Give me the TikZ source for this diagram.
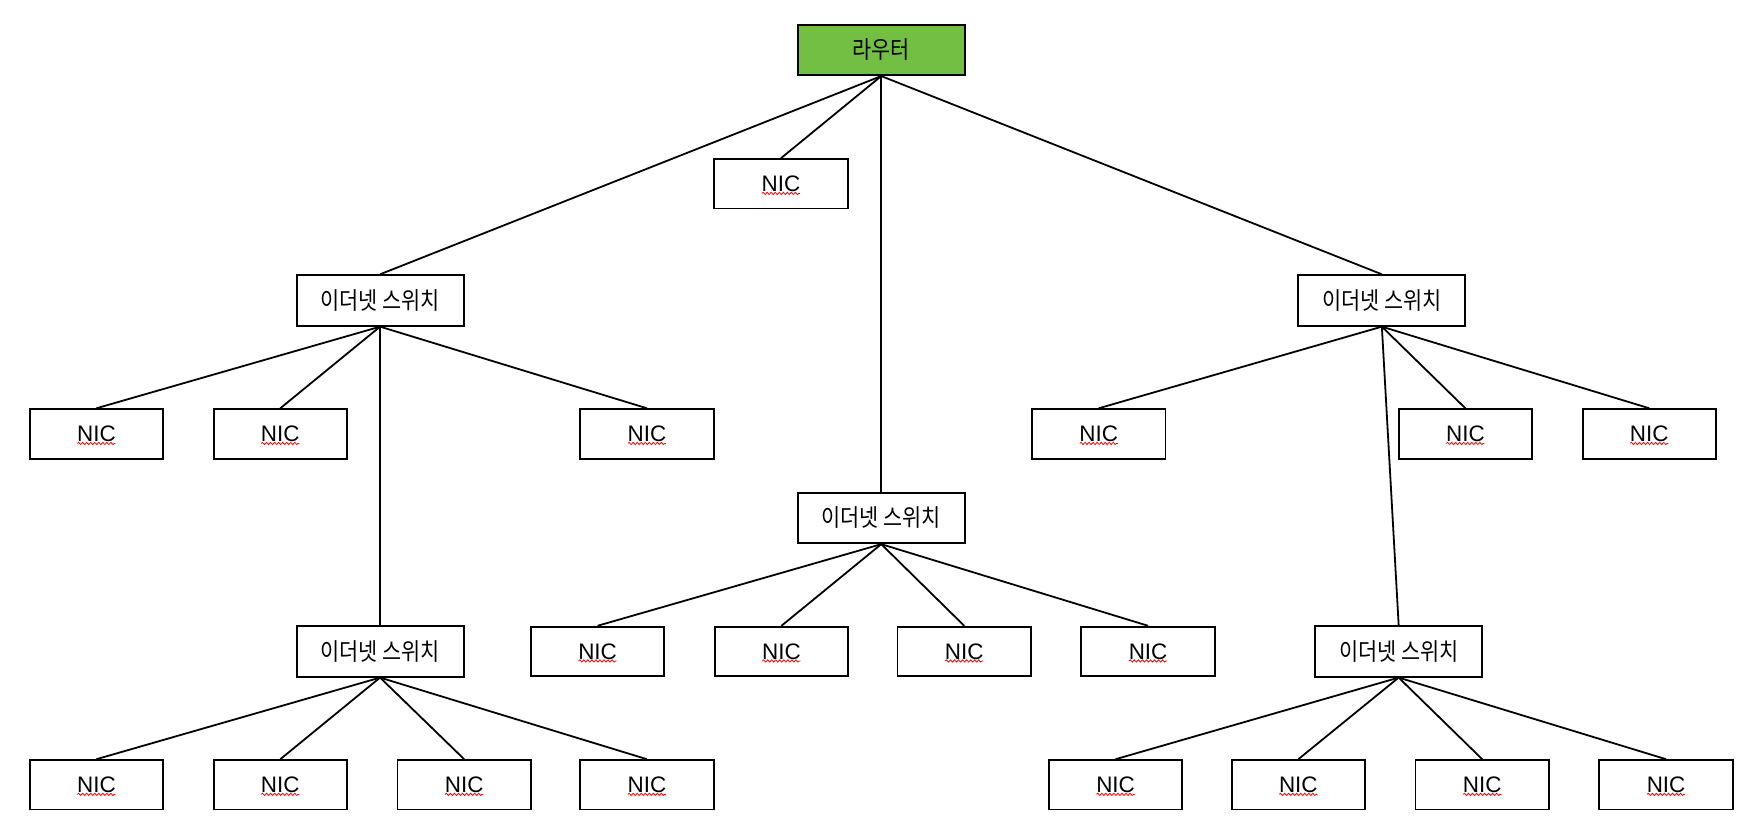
\documentclass[tikz,border=0pt]{standalone}
\usepackage{graphicx}
\usepackage{fontspec}
\setmainfont{Liberation Sans}
\newfontfamily\krfont{Noto Sans CJK KR}
\usetikzlibrary{decorations.pathmorphing,calc}
\definecolor{routergreen}{RGB}{114,191,68}
\newcommand\krtext[1]{\scalebox{0.95}[1.1]{\krfont\fontsize{19.5}{22}\selectfont #1}}
\newcommand\nicnode[3]{%
  \node[nicbox] (#1) at (#2,#3) {NIC};
  \draw[spellwave] ($(#1.center)+(-17,8.5)$) -- ($(#1.center)+(17,8.5)$);%
}
\begin{document}
\begin{tikzpicture}[x=1pt,y=-1pt,
  basebox/.style={draw, line width=1.7pt, inner sep=0pt, fill=white},
  nicbox/.style={basebox, minimum width=119, minimum height=44, font=\fontsize{20}{24}\selectfont},
  swbox/.style={basebox, minimum width=149, minimum height=45},
  routerbox/.style={swbox, fill=routergreen},
  link/.style={line width=1.6pt},
  spellwave/.style={draw=red, line width=0.7pt, decorate, decoration={snake, amplitude=1pt, segment length=3.6pt}}
]
\fill[white] (0,0) rectangle (1568,747.4);
\useasboundingbox (0,0) rectangle (1568,747.4);

% nodes
\node[routerbox] (r) at (786,44.5) {\krtext{라우터}};
\nicnode{n0}{696.5}{164}
\node[swbox] (s1) at (339,268) {\krtext{이더넷 스위치}};
\node[swbox] (s2) at (1232.5,268) {\krtext{이더넷 스위치}};
\node[swbox] (s3) at (786,462) {\krtext{이더넷 스위치}};
\node[swbox] (s4) at (339,581) {\krtext{이더넷 스위치}};
\node[swbox] (s5) at (1247.5,581) {\krtext{이더넷 스위치}};

\nicnode{a1}{86}{387}
\nicnode{a2}{250}{387}
\nicnode{a3}{577}{387}
\nicnode{b1}{980}{387}
\nicnode{b2}{1307}{387}
\nicnode{b3}{1471}{387}

\nicnode{c1}{533}{581}
\nicnode{c2}{697}{581}
\nicnode{c3}{860}{581}
\nicnode{c4}{1024}{581}

\nicnode{d1}{86}{700}
\nicnode{d2}{250}{700}
\nicnode{d3}{414}{700}
\nicnode{d4}{577}{700}
\nicnode{e1}{995}{700}
\nicnode{e2}{1158}{700}
\nicnode{e3}{1322}{700}
\nicnode{e4}{1486}{700}

% links
\foreach \c in {n0,s1,s2,s3} \draw[link] (r.south) -- (\c.north);
\foreach \c in {a1,a2,a3,s4} \draw[link] (s1.south) -- (\c.north);
\foreach \c in {b1,b2,b3,s5} \draw[link] (s2.south) -- (\c.north);
\foreach \c in {c1,c2,c3,c4} \draw[link] (s3.south) -- (\c.north);
\foreach \c in {d1,d2,d3,d4} \draw[link] (s4.south) -- (\c.north);
\foreach \c in {e1,e2,e3,e4} \draw[link] (s5.south) -- (\c.north);
\end{tikzpicture}
\end{document}
